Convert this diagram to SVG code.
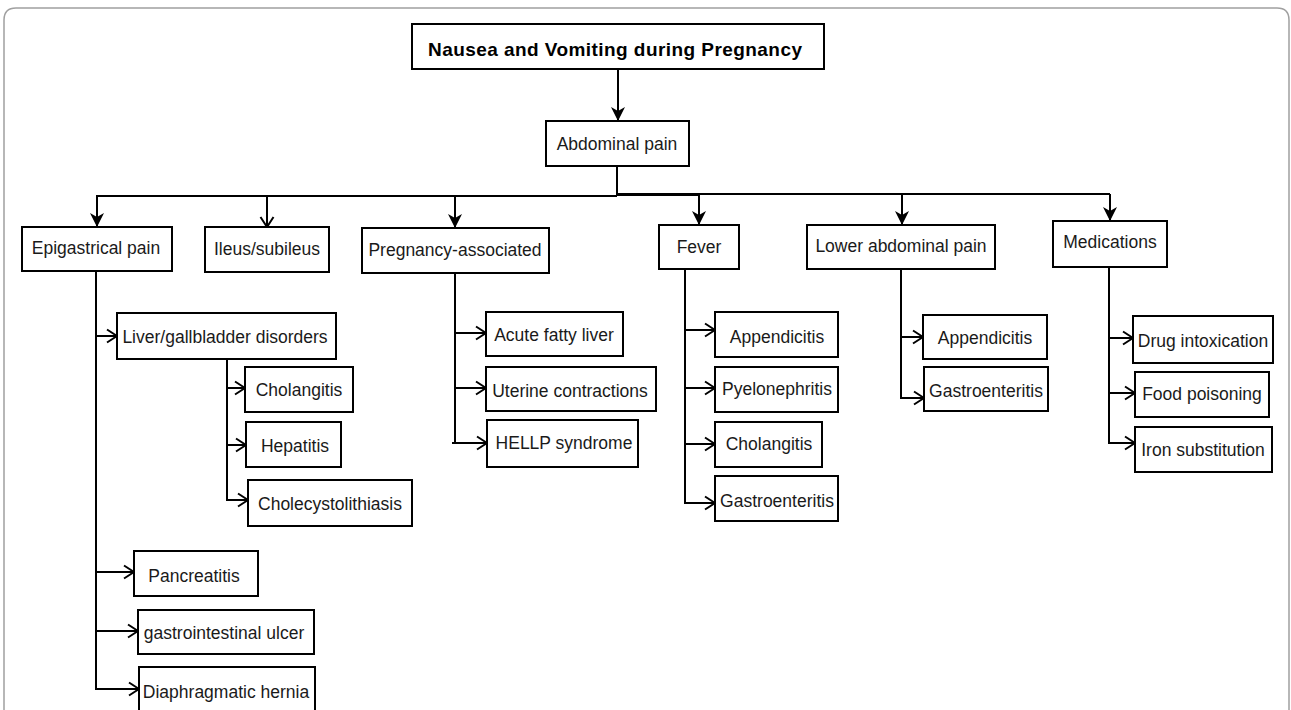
<svg xmlns="http://www.w3.org/2000/svg" width="1291" height="710" viewBox="0 0 1291 710">
<defs>
<style>
.box{fill:#fff;stroke:#000;stroke-width:2}
.t{font-family:"Liberation Sans",Arial,sans-serif;font-size:17.5px;fill:#1a1a1a;text-anchor:middle}
.tb{font-family:"Liberation Sans",Arial,sans-serif;font-size:19px;font-weight:bold;fill:#000;text-anchor:middle}
.c{fill:none;stroke:#000;stroke-width:2}
.cf{fill:none;stroke:#000;stroke-width:2;marker-end:url(#af)}
.co{fill:none;stroke:#000;stroke-width:2;marker-end:url(#ao)}
</style>
<marker id="af" markerUnits="userSpaceOnUse" viewBox="-15 -8 16 16" refX="0" refY="0" markerWidth="16" markerHeight="16" orient="auto">
<path d="M0,0 L-14,-7 L-10,0 L-14,7 Z" fill="#000"/>
</marker>
<marker id="ao" markerUnits="userSpaceOnUse" viewBox="-12 -8 13 16" refX="0" refY="0" markerWidth="13" markerHeight="16" orient="auto">
<path d="M-10,-6.5 L0,0 L-10,6.5" fill="none" stroke="#000" stroke-width="2"/>
</marker>
</defs>
<rect width="1291" height="710" fill="#fff"/>
<path d="M4,712 V20 Q4,8 16,8 H1277 Q1289,8 1289,20 V712" fill="none" stroke="#a0a0a0" stroke-width="1.5"/>

<g id="connectors">
<path class="cf" d="M618,69 V121"/>
<path class="c" d="M617,166 V196"/>
<path class="c" d="M617,196 H96"/>
<path class="c" d="M617,194 H1110"/>
<path class="c" d="M617,195 H700" stroke-width="3"/>
<path class="cf" d="M97,196 V227"/>
<path class="co" d="M267,196 V227"/>
<path class="cf" d="M455,196 V228"/>
<path class="cf" d="M699,194 V225"/>
<path class="cf" d="M902,194 V225"/>
<path class="cf" d="M1110,194 V221"/>

<path class="c" d="M96,271 V690"/>
<path class="co" d="M96,336 H117"/>
<path class="co" d="M96,572 H134"/>
<path class="co" d="M96,631 H138"/>
<path class="co" d="M96,689 H139"/>

<path class="c" d="M227,359 V501"/>
<path class="co" d="M227,388 H245"/>
<path class="co" d="M227,445 H246"/>
<path class="co" d="M227,500 H248"/>

<path class="c" d="M455,273 V443"/>
<path class="co" d="M455,333 H486"/>
<path class="co" d="M455,388 H486"/>
<path class="co" d="M452,443 H487"/>

<path class="c" d="M685,269 V504"/>
<path class="co" d="M685,330 H715"/>
<path class="co" d="M685,388 H715"/>
<path class="co" d="M685,444 H715"/>
<path class="co" d="M685,503 H715"/>

<path class="c" d="M901,269 V399"/>
<path class="co" d="M901,337 H923"/>
<path class="co" d="M901,398 H924"/>

<path class="c" d="M1109,267 V444"/>
<path class="co" d="M1109,338 H1133"/>
<path class="co" d="M1109,393 H1135"/>
<path class="co" d="M1109,443 H1135"/>
</g>

<g id="n-title"><rect class="box" x="412" y="24" width="412" height="45"/><text class="tb" x="615" y="56" textLength="374" lengthAdjust="spacing">Nausea and Vomiting during Pregnancy</text></g>
<g id="n-abdominal"><rect class="box" x="546" y="121" width="143" height="45"/><text class="t" x="617" y="150">Abdominal pain</text></g>
<g id="n-epigastrical"><rect class="box" x="22" y="227" width="150" height="44"/><text class="t" x="96" y="254">Epigastrical pain</text></g>
<g id="n-ileus"><rect class="box" x="205" y="227" width="124" height="45"/><text class="t" x="267" y="255">Ileus/subileus</text></g>
<g id="n-pregnancy"><rect class="box" x="362" y="228" width="187" height="45"/><text class="t" x="455" y="256">Pregnancy-associated</text></g>
<g id="n-fever"><rect class="box" x="659" y="225" width="80" height="44"/><text class="t" x="699" y="253">Fever</text></g>
<g id="n-lower"><rect class="box" x="807" y="225" width="188" height="44"/><text class="t" x="901" y="252">Lower abdominal pain</text></g>
<g id="n-medications"><rect class="box" x="1053" y="221" width="114" height="46"/><text class="t" x="1110" y="248">Medications</text></g>

<g id="n-liver"><rect class="box" x="117" y="313" width="219" height="46"/><text class="t" x="225" y="343">Liver/gallbladder disorders</text></g>
<g id="n-cholangitis1"><rect class="box" x="245" y="367" width="108" height="45"/><text class="t" x="299" y="396">Cholangitis</text></g>
<g id="n-hepatitis"><rect class="box" x="246" y="422" width="95" height="45"/><text class="t" x="295" y="452">Hepatitis</text></g>
<g id="n-cholecysto"><rect class="box" x="248" y="480" width="164" height="46"/><text class="t" x="330" y="510">Cholecystolithiasis</text></g>
<g id="n-pancreatitis"><rect class="box" x="134" y="551" width="124" height="45"/><text class="t" x="194" y="582">Pancreatitis</text></g>
<g id="n-giulcer"><rect class="box" x="138" y="610" width="176" height="44"/><text class="t" x="224" y="639">gastrointestinal ulcer</text></g>
<g id="n-diaphragm"><rect class="box" x="139" y="667" width="176" height="46"/><text class="t" x="226" y="698">Diaphragmatic hernia</text></g>

<g id="n-acutefatty"><rect class="box" x="486" y="312" width="137" height="44"/><text class="t" x="554" y="341">Acute fatty liver</text></g>
<g id="n-uterine"><rect class="box" x="486" y="367" width="170" height="44"/><text class="t" x="570" y="397">Uterine contractions</text></g>
<g id="n-hellp"><rect class="box" x="487" y="420" width="151" height="47"/><text class="t" x="564" y="449">HELLP syndrome</text></g>

<g id="n-appendicitis1"><rect class="box" x="715" y="312" width="123" height="45"/><text class="t" x="777" y="343">Appendicitis</text></g>
<g id="n-pyelonephritis"><rect class="box" x="715" y="367" width="123" height="45"/><text class="t" x="777" y="395">Pyelonephritis</text></g>
<g id="n-cholangitis2"><rect class="box" x="715" y="422" width="107" height="45"/><text class="t" x="769" y="450">Cholangitis</text></g>
<g id="n-gastro1"><rect class="box" x="715" y="476" width="123" height="45"/><text class="t" x="777" y="507">Gastroenteritis</text></g>

<g id="n-appendicitis2"><rect class="box" x="923" y="315" width="124" height="44"/><text class="t" x="985" y="344">Appendicitis</text></g>
<g id="n-gastro2"><rect class="box" x="924" y="367" width="124" height="44"/><text class="t" x="986" y="397">Gastroenteritis</text></g>

<g id="n-drug"><rect class="box" x="1133" y="316" width="140" height="47"/><text class="t" x="1203" y="347">Drug intoxication</text></g>
<g id="n-food"><rect class="box" x="1135" y="372" width="134" height="45"/><text class="t" x="1202" y="400">Food poisoning</text></g>
<g id="n-iron"><rect class="box" x="1135" y="427" width="137" height="45"/><text class="t" x="1203" y="456">Iron substitution</text></g>
</svg>
